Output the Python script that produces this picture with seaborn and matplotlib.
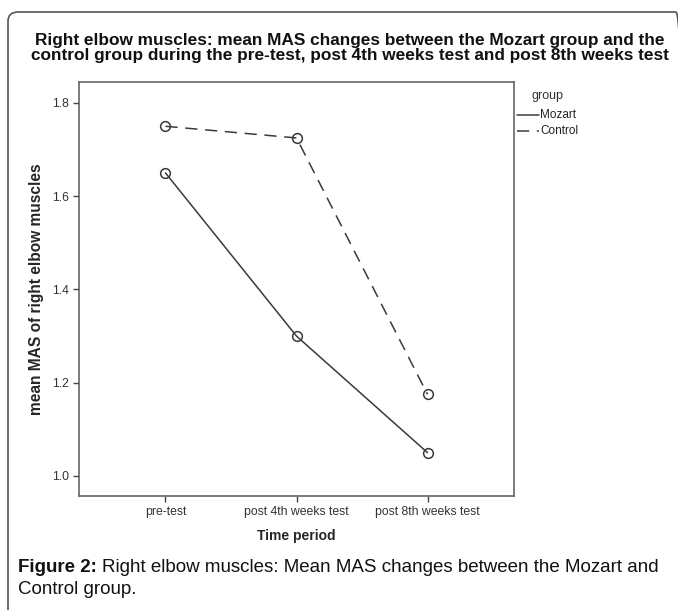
import matplotlib
matplotlib.use("Agg")
import matplotlib.pyplot as plt
import seaborn as sns
import pandas as pd
from matplotlib.patches import FancyBboxPatch
from matplotlib.lines import Line2D

time_labels = ["pre-test", "post 4th weeks test", "post 8th weeks test"]
groups = ["Mozart", "Control"]
mozart_vals = [1.65, 1.30, 1.05]
control_vals = [1.75, 1.725, 1.175]
y_ticks = [1.0, 1.2, 1.4, 1.6, 1.8]

df = pd.DataFrame({
    "time": list(range(3)) * 2,
    "mas": mozart_vals + control_vals,
    "group": ["Mozart"] * 3 + ["Control"] * 3,
})

sns.set_style("white")
plt.rcParams["font.family"] = ["Liberation Sans", "DejaVu Sans"]

W, H = 678, 610
fig = plt.figure(figsize=(W / 100, H / 100), dpi=100)

left, right, top, bottom = 79, 514, 82, 496
ax = fig.add_axes([left / W, 1 - bottom / H, (right - left) / W, (bottom - top) / H])

line_col = "#3a3a3a"
sns.lineplot(data=df, x="time", y="mas", hue="group", style="group",
             palette={"Mozart": line_col, "Control": line_col},
             dashes={"Mozart": "", "Control": (8, 5)},
             markers={"Mozart": "o", "Control": "o"},
             markersize=7, markerfacecolor="none", markeredgecolor=line_col,
             markeredgewidth=1.1, linewidth=1.1, legend=False, ax=ax)

ax.set_xlim(-0.66, 2.66)
ax.set_ylim(0.957, 1.845)
ax.set_xticks(range(3))
ax.set_xticklabels(time_labels)
ax.set_yticks(y_ticks)
ax.set_yticklabels([f"{v:.1f}" for v in y_ticks])
ax.tick_params(axis="both", which="both", length=4, width=1, color="#444444",
               labelsize=8.8, labelcolor="#333333", direction="out",
               left=True, bottom=True, pad=3)
for s in ax.spines.values():
    s.set_color("#666666")
    s.set_linewidth(1.2)
ax.set_xlabel("Time period", fontsize=10, fontweight="bold", labelpad=8)
ax.set_ylabel("mean MAS of right elbow muscles", fontsize=11.2, fontweight="bold", labelpad=6)

def fx(px):
    return px / W

def fy(py):
    return 1 - py / H

# legend
fig.text(fx(532), fy(96), "group", fontsize=9, color="#333333", ha="left", va="center")
fig.add_artist(Line2D([fx(517), fx(539)], [fy(115), fy(115)], color=line_col, lw=1.1))
fig.text(fx(540), fy(115), groups[0], fontsize=8.5, color="#222222", ha="left", va="center")
fig.add_artist(Line2D([fx(517), fx(539)], [fy(131), fy(131)], color=line_col, lw=1.1,
                      linestyle=(0, (8, 5))))
fig.text(fx(540), fy(131), groups[1], fontsize=8.5, color="#222222", ha="left", va="center")

# title
fig.text(fx(350), fy(48),
         "Right elbow muscles: mean MAS changes between the Mozart group and the\n"
         "control group during the pre-test, post 4th weeks test and post 8th weeks test",
         ha="center", va="center", fontsize=12.4, fontweight="bold",
         linespacing=1.0, color="#111111")

# caption
cap = 13.5
t1 = fig.text(fx(18), fy(567), "Figure 2:", fontsize=cap, fontweight="bold",
              ha="left", va="center", color="#111111")
fig.canvas.draw()
bb = t1.get_window_extent()
fig.text((bb.x1 + 5) / W, fy(567),
         "Right elbow muscles: Mean MAS changes between the Mozart and",
         fontsize=cap, ha="left", va="center", color="#111111")
fig.text(fx(18), fy(589), "Control group.", fontsize=cap,
         ha="left", va="center", color="#111111")

box = FancyBboxPatch((8 / W, -0.05), 1.0, 1 - 12 / H + 0.05,
                     boxstyle="round,pad=0,rounding_size=0.015",
                     transform=fig.transFigure, fill=False,
                     edgecolor="#555555", linewidth=1.2, clip_on=False)
fig.patches.append(box)

fig.savefig("out.png", dpi=100)
